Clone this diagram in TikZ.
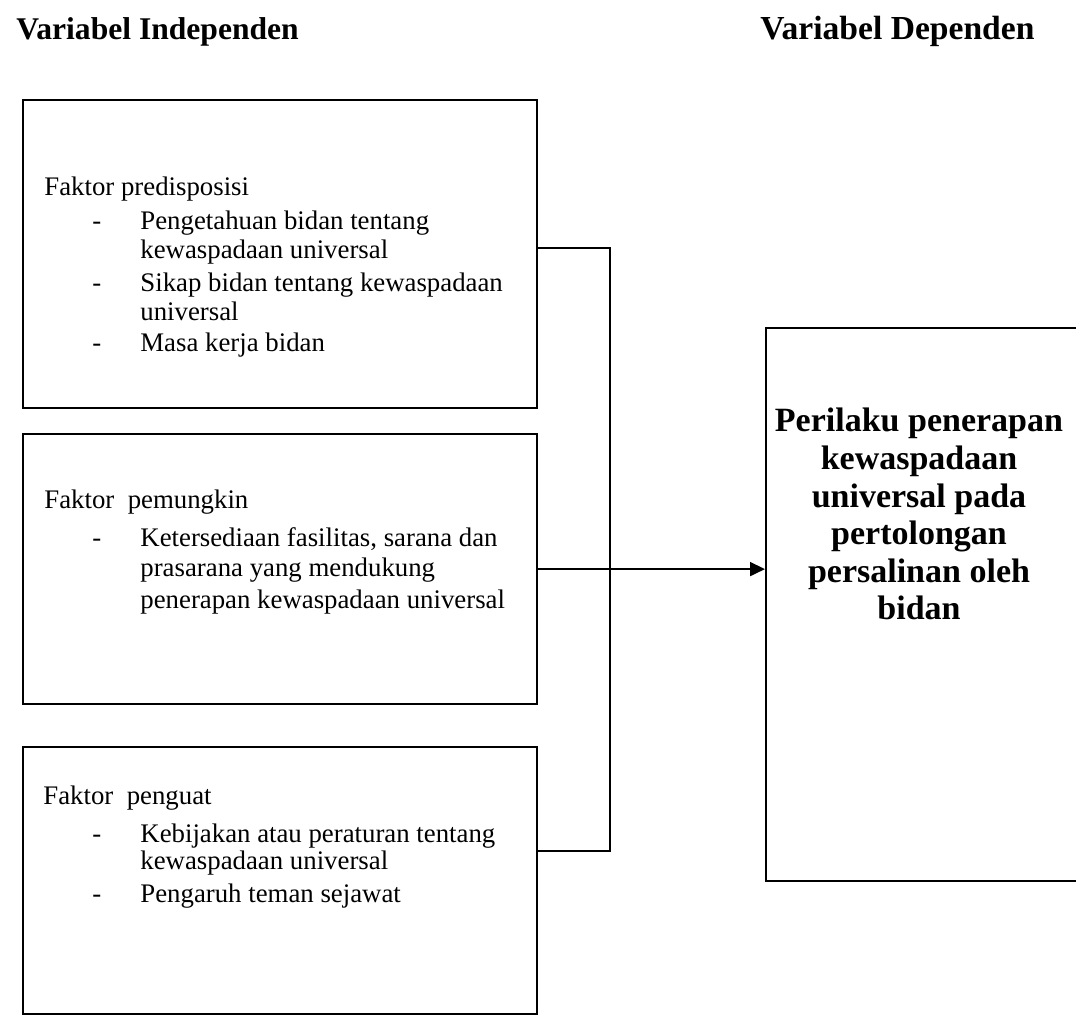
\documentclass[tikz,border=0pt]{standalone}
\usepackage{fontspec}
\setmainfont{Liberation Serif}
\usetikzlibrary{arrows.meta}
\begin{document}
\begin{tikzpicture}[x=0.5pt,y=-0.5pt,
  box/.style={draw=black, line width=1.1pt, anchor=north west, inner sep=0pt, minimum width=257pt},
  conn/.style={draw=black, line width=0.9pt},
  txt/.style={inner sep=0pt, anchor=base west, font=\fontsize{13.4pt}{15pt}\selectfont},
  ttl/.style={inner sep=0pt, anchor=base west, font=\fontsize{15.8pt}{18pt}\selectfont\bfseries},
  dep/.style={inner sep=0pt, anchor=base, font=\fontsize{17pt}{19pt}\selectfont\bfseries}
]
\fill[white] (0,0) rectangle (1076,1016);
\useasboundingbox (0,0) rectangle (1076,1016);

% titles
\node[ttl] (tind) at (16,40) {Variabel Independen};
\node[ttl, font=\fontsize{16.8pt}{19pt}\selectfont\bfseries] (tdep) at (760,40) {Variabel Dependen};

% boxes
\node[box, minimum height=154pt] (b1) at (22,99) {};
\node[box, minimum height=135pt] (b2) at (22,433) {};
\node[box, minimum height=133.5pt] (b3) at (22,746) {};
\node[box, minimum width=162.5pt, minimum height=276.5pt] (rb) at (765,327) {};

% box 1 text
\node[txt] (b1h) at (44,196) {Faktor predisposisi};
\node[txt] (b1d1) at (92,230) {-};
\node[txt] (b1a) at (140,230) {Pengetahuan bidan tentang};
\node[txt] (b1b) at (140,259) {kewaspadaan universal};
\node[txt] (b1d2) at (92,292) {-};
\node[txt] (b1c) at (140,292) {Sikap bidan tentang kewaspadaan};
\node[txt] (b1e) at (140,321) {universal};
\node[txt] (b1d3) at (92,351) {-};
\node[txt] (b1f) at (140,351) {Masa kerja bidan};

% box 2 text
\node[txt] (b2h) at (44,508) {Faktor\ \ pemungkin};
\node[txt] (b2d1) at (92,546) {-};
\node[txt] (b2a) at (140,546) {Ketersediaan fasilitas, sarana dan};
\node[txt] (b2b) at (140,576) {prasarana yang mendukung};
\node[txt] (b2c) at (140,608) {penerapan kewaspadaan universal};

% box 3 text
\node[txt] (b3h) at (43,804) {Faktor\ \ penguat};
\node[txt] (b3d1) at (92,842) {-};
\node[txt] (b3a) at (140,842) {Kebijakan atau peraturan tentang};
\node[txt] (b3b) at (140,869) {kewaspadaan universal};
\node[txt] (b3d2) at (92,902) {-};
\node[txt] (b3c) at (140,902) {Pengaruh teman sejawat};

% dependent text
\node[dep] (r1) at (919,431) {Perilaku penerapan};
\node[dep] (r2) at (919,469) {kewaspadaan};
\node[dep] (r3) at (919,507) {universal pada};
\node[dep] (r4) at (919,544) {pertolongan};
\node[dep] (r5) at (919,582) {persalinan oleh};
\node[dep] (r6) at (919,619) {bidan};

% connectors
\coordinate (jx) at (610,0);
\coordinate (c1) at (b1.east |- 0,248);
\coordinate (c3) at (b3.east |- 0,851);
\draw[conn] (c1) -- (c1 -| jx) -- (c3 -| jx) -- (c3);
\draw[conn, -{Triangle[length=7.5pt, width=7pt]}] (b2.east) -- (rb.west |- b2.east);
\end{tikzpicture}
\end{document}
